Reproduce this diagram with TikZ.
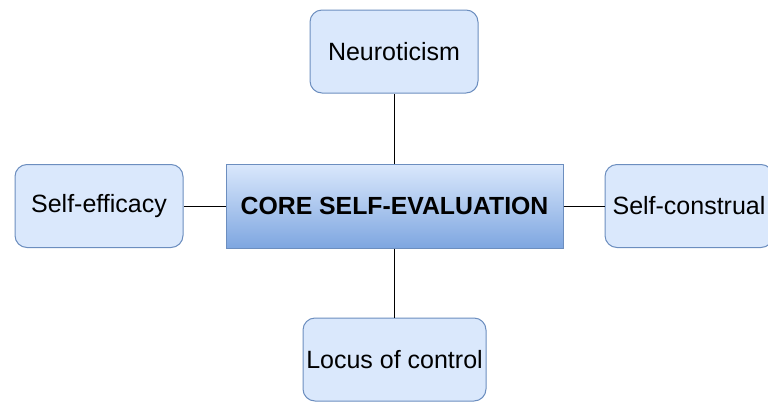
\documentclass[tikz,border=0pt]{standalone}
\usepackage{fontspec}
\setmainfont{Liberation Sans}
\definecolor{boxfill}{HTML}{DAE8FC}
\definecolor{boxline}{HTML}{6C8EBF}
\definecolor{shadeend}{HTML}{7EA6E0}
\begin{document}
\begin{tikzpicture}[x=1pt,y=-1pt,
  trait/.style={draw=boxline, fill=boxfill, line width=1pt, rounded corners=12pt,
    minimum width=168pt, minimum height=83pt, inner sep=0pt,
    font=\fontsize{25}{29}\selectfont},
  core/.style={draw=boxline, top color=boxfill, bottom color=shadeend, line width=1pt,
    minimum width=337pt, minimum height=84pt, inner sep=0pt,
    font=\fontsize{24.8}{29}\selectfont\bfseries},
  link/.style={draw=black, line width=1pt}]
  \useasboundingbox (0,0) rectangle (768,402);
  \node[core] (cse) at (394.5,206) {CORE SELF-EVALUATION};
  \node[trait] (neuro) at (394,51.5) {Neuroticism};
  \node[trait] (effic) at (99,206) {Self-efficacy};
  \node[trait] (constr) at (689,206) {Self-construal};
  \node[trait, minimum width=183pt] (locus) at (394.5,359.5) {Locus of control};
  \draw[link] (cse.north -| neuro.south) -- (neuro.south);
  \draw[link] (cse.south -| locus.north) -- (locus.north);
  \draw[link] (cse.west) -- (effic.east);
  \draw[link] (cse.east) -- (constr.west);
\end{tikzpicture}
\end{document}
